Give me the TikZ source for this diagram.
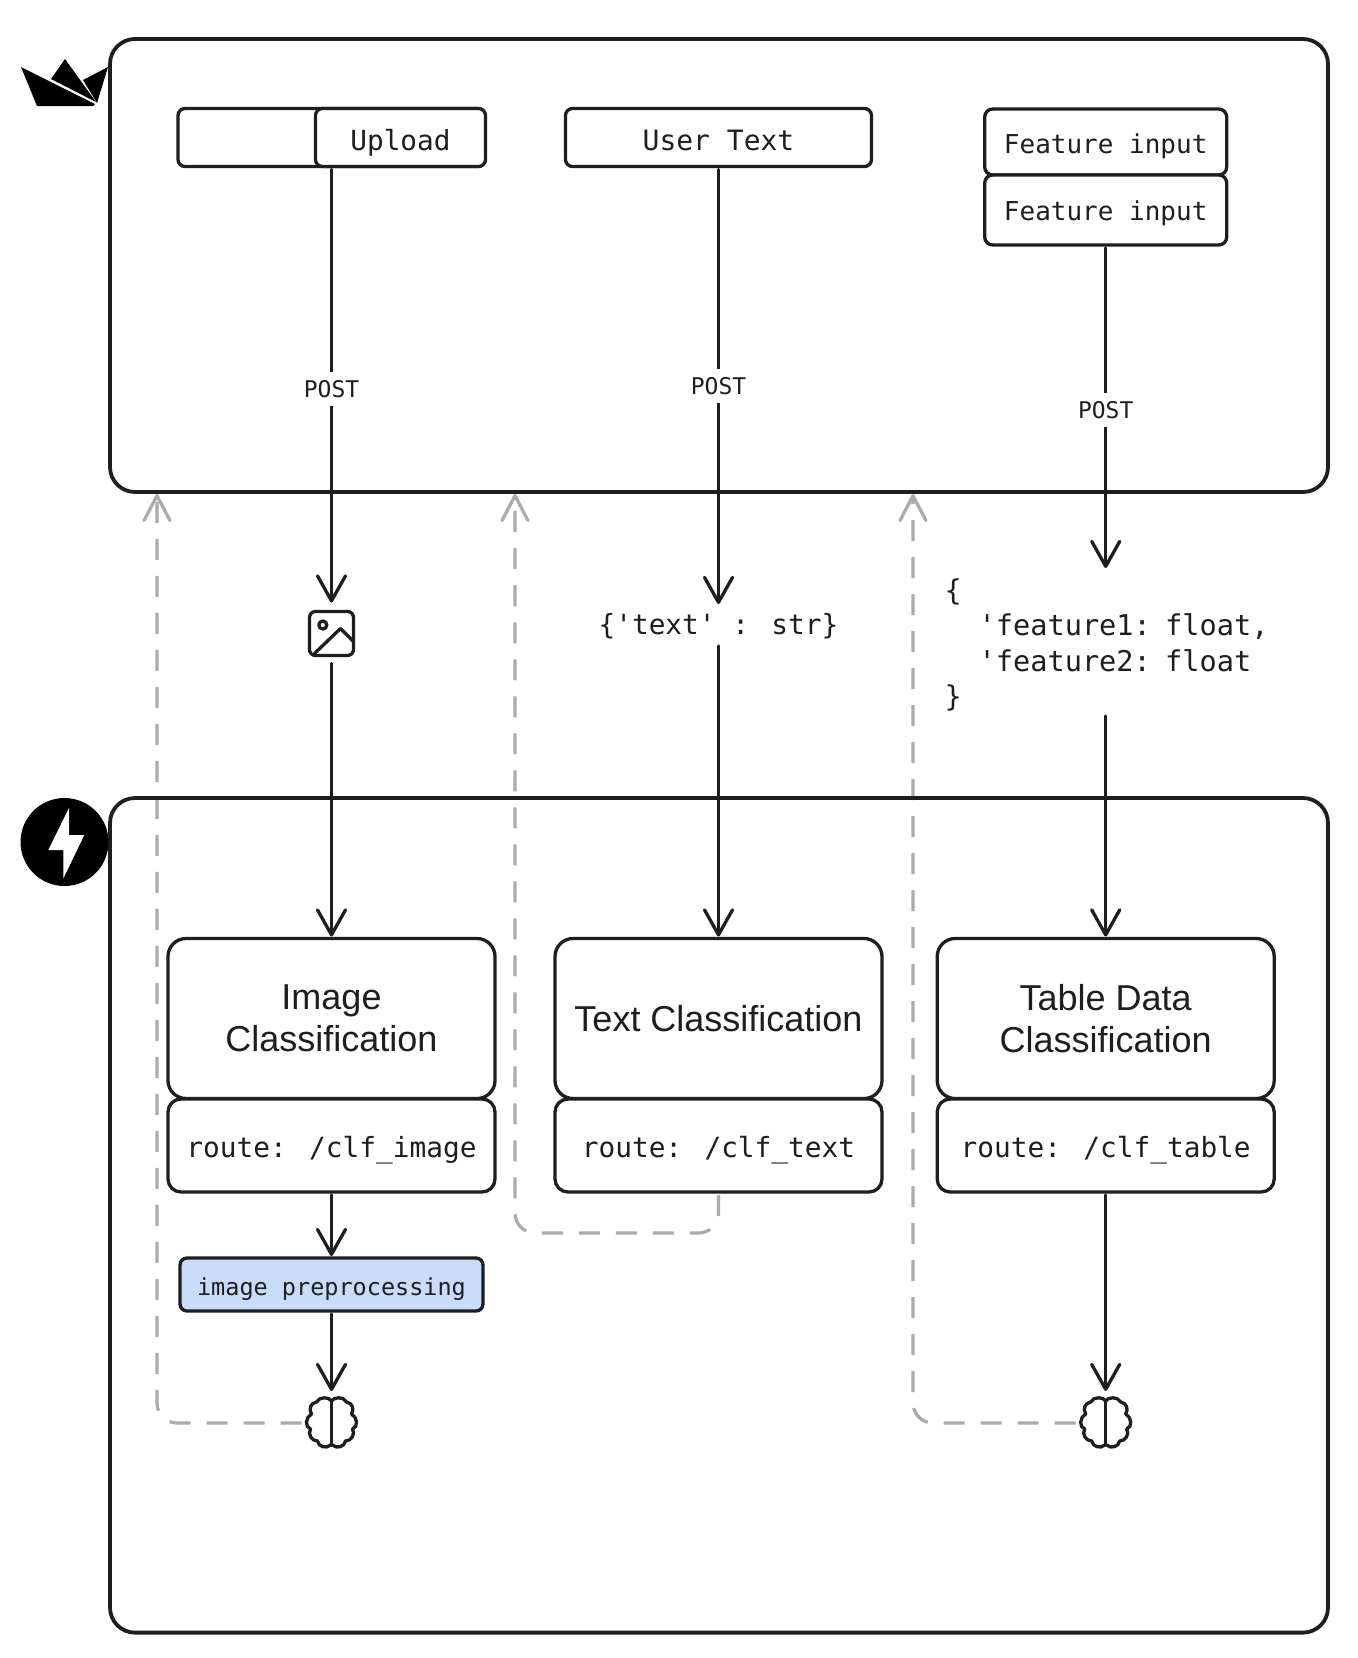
\documentclass[tikz,border=0pt]{standalone}
\usepackage{fontspec}
\setmainfont{Liberation Sans}
\newfontfamily\codefont{DejaVu Sans Mono}
\usetikzlibrary{arrows.meta,backgrounds}
\definecolor{ink}{HTML}{1E1E1E}
\definecolor{dashgray}{HTML}{ABABAB}
\definecolor{preblue}{HTML}{C9DCFB}
\tikzset{
  x=1pt,y=-1pt,
  base/.style={draw=ink,line width=3.3pt,inner sep=0pt,outer sep=0pt,text=ink,fill=white},
  frame/.style={draw=ink,line width=3.8pt,inner sep=0pt,outer sep=0pt,rounded corners=25pt},
  inputbox/.style={base,rounded corners=7pt,text height=26pt,text depth=0pt},
  featbox/.style={base,rounded corners=8pt,minimum width=242pt,font=\codefont\fontsize{26}{31}\selectfont,text depth=0pt},
  titlebox/.style={base,rounded corners=18pt,minimum width=327pt,minimum height=160pt,align=center,font=\fontsize{36}{42}\selectfont},
  routebox/.style={base,rounded corners=13pt,minimum width=327pt,minimum height=93pt,font=\codefont\fontsize{27.8}{33}\selectfont,text height=23pt,text depth=0pt},
  prebox/.style={base,fill=preblue,rounded corners=7pt,minimum width=303pt,minimum height=53pt,font=\codefont\fontsize{23.5}{28}\selectfont,text height=21pt,text depth=0pt},
  conn/.style={draw=ink,line width=3.3pt,line cap=round,-{Straight Barb[length=25pt,width=28pt,line width=3.3pt,round]},shorten >=2pt,shorten <=3pt},
  plainlabel/.style={inner sep=0pt,outer sep=0pt,text=ink},
  postlabel/.style={plainlabel,fill=white,minimum width=58pt,minimum height=34pt,font=\codefont\fontsize{23}{27}\selectfont},
  back/.style={draw=dashgray,line width=3.2pt,dash pattern=on 21pt off 16pt,rounded corners=20pt,-{Straight Barb[length=25pt,width=26pt,line width=3.2pt,round]}},
  iconnode/.style={inner sep=0pt,outer sep=0pt},
  iconline/.style={draw=ink,line width=3.3pt,line join=round,line cap=round},
}
\newcommand{\brainicon}[1]{%
  \begin{scope}[shift={(#1)}]
    \draw[iconline,fill=white]
      (0,-22) .. controls (2,-26) and (12,-27) .. (15,-21)
      .. controls (21,-20) and (23,-14) .. (20,-9)
      .. controls (26,-6) and (27,4) .. (21,6)
      .. controls (24,11) and (20,18) .. (14,18)
      .. controls (13,24) and (5,26) .. (1,22)
      -- (-1,22)
      .. controls (-5,26) and (-13,24) .. (-14,18)
      .. controls (-20,18) and (-24,11) .. (-21,6)
      .. controls (-27,4) and (-26,-6) .. (-20,-9)
      .. controls (-23,-14) and (-21,-20) .. (-15,-21)
      .. controls (-12,-27) and (-2,-26) .. (0,-22) -- cycle;
    \draw[iconline] (0,-22) -- (0,22);
  \end{scope}}
\begin{document}
\begin{tikzpicture}
\useasboundingbox (0,0) rectangle (1358,1658);
\begin{scope}[on background layer]
  \fill[white] (0,0) rectangle (1358,1658);
\end{scope}

% frames
\node[frame,minimum width=1218pt,minimum height=453pt] (topframe) at (719,265.5) {};
\node[frame,minimum width=1218pt,minimum height=834.6pt] (botframe) at (719,1215.3) {};

% logos
\fill[black] (21,67) -- (95,104) -- (93,106) -- (37,106) -- cycle;
\fill[black] (51,79) -- (65,59) -- (96,102) -- cycle;
\fill[black] (83,80) -- (108,67) -- (97,103) -- cycle;
\node[circle,fill=black,minimum size=88pt,inner sep=0pt] (fastlogo) at (64.5,842) {};
\fill[white] (69,808) -- (48.3,850) -- (63.3,850) -- (63.3,878.5) -- (84.3,835) -- (69,835) -- cycle;

% inputs
\node[base,rounded corners=7pt,minimum width=307pt,minimum height=58pt] (upload) at (331.5,137.5) {};
\node[inputbox,minimum width=170pt,minimum height=58pt,font=\codefont\fontsize{27.7}{32}\selectfont] (uploadbtn) at (400.5,137.5) {Upload};
\node[inputbox,minimum width=306pt,minimum height=58pt,font=\codefont\fontsize{28}{32}\selectfont] (usertext) at (718.5,137.5) {User Text};
\node[featbox,minimum height=66pt,text height=22pt] (feat1) at (1105.7,142) {Feature input};
\node[featbox,minimum height=70pt,text height=20pt] (feat2) at (1105.7,210) {Feature input};

% payloads
\node[iconnode,draw=ink,line width=3.3pt,rounded corners=6pt,minimum size=44pt] (imgicon) at (331.5,633.5) {};
\draw[iconline] (imgicon.center) ++(-8.7,-8.5) circle (4pt);
\draw[iconline] (imgicon.center) ++(-17,20) -- ++(26,-25) -- ++(13,13);
\node[plainlabel,minimum height=40pt,font=\codefont\fontsize{27.8}{33}\selectfont] (textload) at (718.5,626) {\{'text' : str\}};
\node[plainlabel,text width=322pt,align=left,minimum height=148pt,font=\codefont\fontsize{28.6}{35.5}\selectfont] (tableload) at (1105.7,645)
  {\{\\\hspace*{34pt}\rlap{'feature1: float,}\\\hspace*{34pt}\rlap{'feature2: float}\\\}};

% services
\node[titlebox] (imgclf) at (331.5,1018.5) {Image\\Classification};
\node[routebox] (imgroute) at (331.5,1145.5) {route: /clf\_image};
\node[titlebox] (textclf) at (718.5,1018.5) {Text Classification};
\node[routebox] (textroute) at (718.5,1145.5) {route: /clf\_text};
\node[titlebox,minimum width=337pt] (tableclf) at (1105.7,1018.5) {Table Data\\Classification};
\node[routebox,minimum width=337pt] (tableroute) at (1105.7,1145.5) {route: /clf\_table};
\node[prebox] (prep) at (331.5,1284.5) {image preprocessing};
\node[iconnode,minimum size=50pt] (brainA) at (331.5,1423) {};
\node[iconnode,minimum size=50pt] (brainB) at (1105.7,1423) {};
\brainicon{brainA.center}
\brainicon{brainB.center}

% connectors
\draw[conn,shorten >=9pt] (upload.south) -- node[postlabel] (postA) {POST} (imgicon.north);
\draw[conn] (usertext.south) -- node[postlabel] (postB) {POST} (textload.north);
\draw[conn,shorten >=3pt] (feat2.south) -- node[postlabel,pos=0.505] (postC) {POST} (tableload.north);
\draw[conn,shorten <=8pt] (imgicon.south) -- (imgclf.north);
\draw[conn,shorten <=0pt] (textload.south) -- (textclf.north);
\draw[conn,shorten <=-3pt] (tableload.south) -- (tableclf.north);
\draw[conn] (imgroute.south) -- (prep.north);
\draw[conn,shorten >=7pt] (prep.south) -- (brainA.north);
\draw[conn,shorten >=7pt] (tableroute.south) -- (brainB.north);

% return paths
\coordinate (tipA) at (157,494);
\coordinate (tipB) at (515,494);
\coordinate (tipC) at (913,494);
\coordinate (cornerB) at (515,1233);
\begin{scope}[on background layer]
  \draw[back,shorten <=5pt] (brainA.west) -| (tipA);
  \draw[back,shorten <=3pt] (textroute.south) |- (cornerB) -- (tipB);
  \draw[back,shorten <=5pt] (brainB.west) -| (tipC);
\end{scope}
\end{tikzpicture}
\end{document}
